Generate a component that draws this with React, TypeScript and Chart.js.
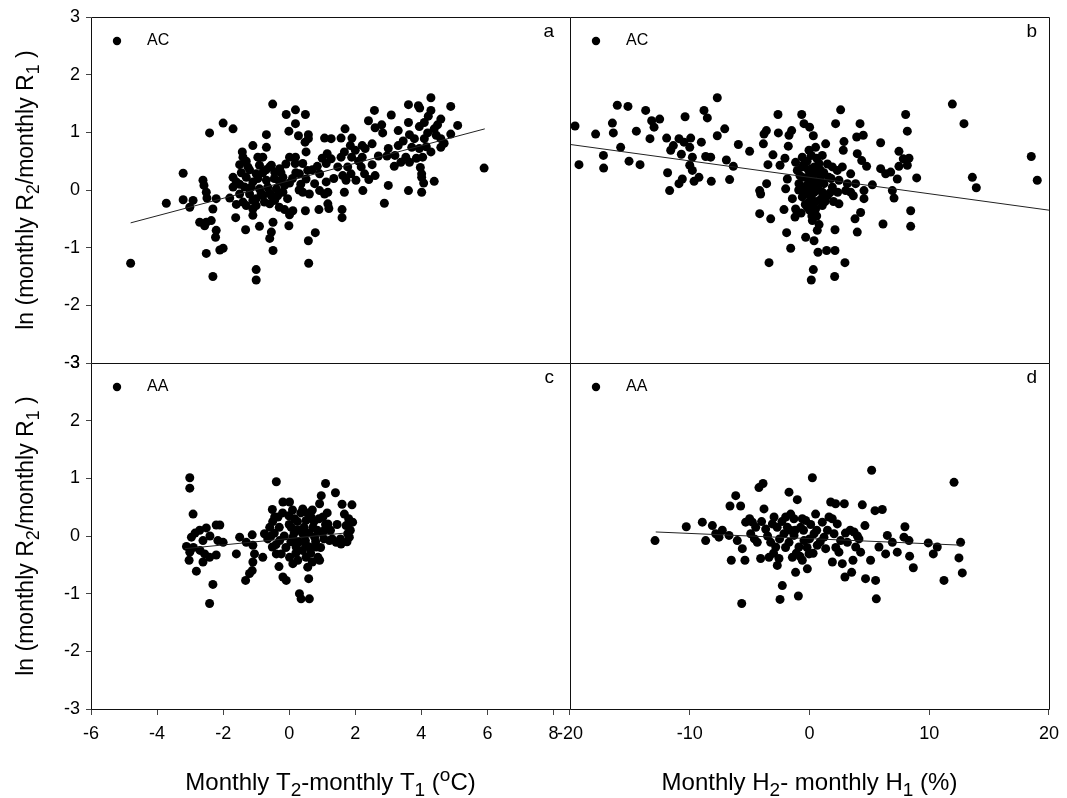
import React, { useEffect, useRef } from 'react';
import { Chart, registerables } from 'chart.js';

Chart.register(...registerables);

const FONT = "'Liberation Sans', Arial, Helvetica, sans-serif";

// Panel a: AC, ln(R2/R1) vs monthly temperature difference (°C)
const acTemp: [number, number][] = [
  [-0.5, 1.49], [0.19, 1.39], [-0.09, 1.31], [0.49, 1.31], [4.29, 1.6], [3.61, 1.48], [3.91, 1.46], [3.95, 1.42],
  [4.89, 1.45], [2.58, 1.38], [4.29, 1.38], [3.09, 1.3], [2.4, 1.2], [4.21, 1.28], [4.59, 1.23], [5.1, 1.12],
  [-2.0, 1.16], [-1.7, 1.06], [-2.41, 0.99], [0.19, 1.15], [-0.01, 1.02], [-0.69, 0.96], [0.28, 0.94], [0.58, 0.96],
  [1.69, 1.06], [2.6, 1.08], [2.8, 1.13], [3.3, 1.03], [3.61, 1.17], [4.09, 1.17], [3.94, 1.1], [4.49, 1.13],
  [1.07, 0.9], [1.27, 0.89], [1.57, 0.9], [1.9, 0.9], [2.83, 0.99], [3.64, 0.96], [4.19, 0.99], [4.39, 1.06],
  [4.89, 0.97], [0.48, 0.83], [0.58, 0.89], [-1.1, 0.77], [-0.69, 0.74], [1.85, 0.77], [2.21, 0.77], [2.51, 0.8],
  [4.59, 0.89], [4.69, 0.81], [3.79, 0.89], [4.09, 0.89], [-1.42, 0.66], [0.51, 0.66], [1.15, 0.63], [1.67, 0.66],
  [2.0, 0.69], [2.3, 0.72], [3.0, 0.72], [3.3, 0.77], [3.71, 0.74], [3.94, 0.72], [4.29, 0.66], [4.59, 0.74],
  [-1.4, 0.57], [-0.95, 0.57], [0.01, 0.57], [0.19, 0.57], [-0.54, 0.43], [-0.8, 0.57], [1.27, 0.54], [1.57, 0.57],
  [1.89, 0.57], [2.21, 0.57], [2.7, 0.59], [2.96, 0.59], [3.53, 0.57], [4.04, 0.57], [3.38, 0.48], [0.18, 0.46],
  [0.41, 0.46], [0.85, 0.41], [1.12, 0.46], [1.47, 0.4], [1.77, 0.4], [2.18, 0.4], [2.51, 0.44], [3.18, 0.41],
  [3.64, 0.48], [3.97, 0.39], [-1.5, 0.44], [-1.25, 0.4], [-0.9, 0.43], [-0.59, 0.4], [-0.29, 0.37], [-3.21, 0.29],
  [0.56, 0.34], [0.92, 0.28], [0.31, 0.28], [1.62, 0.25], [1.87, 0.28], [2.28, 0.28], [4.01, 0.28], [-1.7, 0.22],
  [-1.3, 0.22], [-1.0, 0.28], [-0.44, 0.31], [-0.19, 0.22], [-2.61, 0.17], [-1.6, 0.14], [-1.1, 0.14], [-0.69, 0.17],
  [0.01, 0.12], [0.51, 0.19], [0.77, 0.11], [1.12, 0.14], [1.72, 0.17], [2.02, 0.17], [2.41, 0.18], [3.0, 0.08],
  [4.07, 0.12], [4.39, 0.15], [4.01, 0.22], [-2.58, 0.08], [-1.7, 0.05], [-1.35, 0.05], [-0.9, 0.02], [-0.39, 0.02],
  [-0.14, 0.08], [0.41, -0.04], [0.92, -0.01], [1.17, -0.04], [1.67, -0.04], [2.23, -0.01], [3.61, -0.01], [4.01, -0.04],
  [-2.51, -0.04], [-1.5, -0.07], [-1.2, -0.07], [-0.8, -0.1], [-0.54, -0.1], [-0.19, -0.04], [0.61, -0.07], [1.07, -0.07],
  [-2.49, -0.14], [-2.21, -0.15], [-1.8, -0.14], [-1.4, -0.21], [-1.1, -0.18], [-0.75, -0.21], [-0.44, -0.18], [-3.72, -0.23],
  [-3.21, -0.17], [-2.91, -0.18], [-3.01, -0.3], [-1.3, -0.27], [-1.0, -0.27], [-0.59, -0.24], [1.17, -0.24], [2.88, -0.23],
  [-2.31, -0.33], [-1.1, -0.33], [-0.14, -0.34], [0.11, -0.36], [0.49, -0.36], [0.9, -0.34], [1.2, -0.32], [1.6, -0.34],
  [-1.62, -0.48], [-1.1, -0.44], [0.01, -0.43], [1.6, -0.48], [-2.71, -0.56], [-2.51, -0.56], [-2.56, -0.62], [-2.36, -0.53],
  [-0.49, -0.56], [-0.9, -0.63], [-0.01, -0.62], [-1.32, -0.69], [-2.21, -0.7], [-2.23, -0.82], [-0.54, -0.73], [-0.59, -0.84],
  [0.79, -0.74], [0.58, -0.88], [-2.1, -1.04], [-2.0, -1.01], [-2.51, -1.1], [-0.49, -1.05], [0.59, -1.27], [-4.8, -1.27],
  [-2.31, -1.5], [-1.0, -1.38], [-1.0, -1.56], [5.9, 0.38], [-1.2, 0.35], [-0.8, 0.3], [-0.3, 0.15], [-1.5, 0.1],
  [-0.6, -0.05], [0.3, 0.0], [-0.1, 0.45], [-1.0, -0.15], [0.2, 0.3], [-1.45, 0.3], [-1.3, 0.5], [-1.15, 0.05],
  [-0.95, 0.2], [-0.85, -0.05], [-0.7, 0.35], [-0.65, 0.05], [-0.45, 0.2], [-0.35, -0.1], [-0.25, 0.3], [-0.05, -0.15],
  [0.1, 0.2], [0.35, 0.1], [0.7, 0.35], [1.0, 0.55], [1.35, 0.2], [2.1, 0.5], [2.6, 0.25], [3.2, 0.6],
  [3.45, 0.85], [3.85, 0.55], [4.15, 0.75], [4.45, 0.95], [-1.6, -0.25], [-0.3, -0.3],
];

// Panel b: AC, ln(R2/R1) vs monthly humidity difference (%)
const acHum: [number, number][] = [
  [-19.58, 1.11], [-19.25, 0.44], [-17.86, 0.97], [-17.21, 0.6], [-17.19, 0.38], [-16.46, 1.16], [-16.38, 0.99], [-16.05, 1.47],
  [-15.77, 0.74], [-15.16, 1.45], [-15.07, 0.5], [-14.46, 1.02], [-14.15, 0.44], [-13.68, 1.38], [-13.32, 0.89], [-13.18, 1.2],
  [-12.98, 1.09], [-12.51, 1.23], [-11.93, 0.9], [-11.85, 0.3], [-11.68, -0.01], [-11.59, 0.69], [-11.37, 0.77], [-10.9, 0.89],
  [-10.9, 0.11], [-10.7, 0.62], [-10.62, 0.19], [-10.39, 1.27], [-10.48, 0.83], [-10.0, 0.74], [-9.92, 0.9], [-9.78, 0.57],
  [-10.0, 0.43], [-9.78, 0.34], [-9.64, 0.15], [-9.23, 0.22], [-9.03, 0.83], [-8.81, 1.38], [-8.53, 1.25], [-8.67, 0.58],
  [-8.25, 0.57], [-8.2, 0.15], [-7.7, 0.94], [-7.08, 1.06], [-6.94, 0.52], [-6.67, 0.18], [-6.36, 0.41], [-7.7, 1.6],
  [-5.94, 0.79], [-5.0, 0.67], [-4.16, -0.01], [-4.08, -0.07], [-4.16, -0.41], [-3.85, 0.8], [-3.8, 0.97], [-3.6, 1.03],
  [-3.58, 0.11], [-3.47, 0.44], [-3.38, -1.26], [-3.24, -0.5], [-3.05, 0.61], [-2.63, 1.31], [-2.6, 0.99], [-2.46, 0.43],
  [-2.13, -0.34], [-2.05, 0.55], [-1.91, -0.74], [-1.85, 0.19], [-1.99, 0.02], [-1.77, 0.76], [-1.71, 0.95], [-1.57, -1.01],
  [-1.49, 1.03], [-1.43, -0.15], [-1.16, -0.33], [-1.21, -0.47], [-1.02, 0.34], [-0.88, 0.11], [-0.65, 1.31], [-0.6, 0.57],
  [-0.46, 1.15], [-0.32, -0.82], [-0.26, -0.07], [-0.18, -0.3], [-0.04, 0.69], [0.01, 1.09], [0.18, 0.37], [0.1, 0.11],
  [0.24, -0.53], [0.32, 0.94], [0.38, -0.88], [0.51, 0.74], [0.57, -0.01], [0.65, -0.7], [0.71, -1.08], [0.79, 0.46],
  [0.85, -0.18], [0.93, 0.22], [1.07, 0.6], [1.21, 0.11], [1.35, 0.8], [1.43, -1.05], [0.32, -1.38], [0.15, -1.56],
  [2.13, -1.05], [2.13, -0.69], [2.1, -1.5], [2.18, 1.15], [2.32, 0.34], [2.35, -0.04], [2.46, -0.24], [2.6, 1.39],
  [2.74, 0.4], [2.82, 0.69], [2.88, 0.84], [2.96, -1.26], [3.16, 0.11], [3.44, 0.28], [3.66, -0.1], [3.8, -0.5],
  [3.99, 0.63], [3.99, -0.73], [3.94, 0.92], [4.22, 1.15], [4.27, -0.39], [4.36, 0.51], [4.49, 0.95], [4.55, -0.01],
  [4.55, -0.15], [4.77, 0.41], [5.25, 0.09], [5.94, 0.82], [5.94, 0.37], [6.14, -0.59], [6.36, 0.28], [6.78, 0.31],
  [6.92, -0.01], [7.06, -0.14], [7.33, 0.19], [7.47, 0.67], [7.47, 0.41], [8.03, 1.31], [8.17, 1.02], [7.83, 0.54],
  [8.17, 0.43], [8.31, 0.55], [8.45, -0.36], [8.45, -0.63], [8.95, 0.21], [11.93, 1.49], [12.9, 1.15], [13.6, 0.22],
  [13.93, 0.04], [18.52, 0.58], [19.02, 0.17], [-0.6, 0.22], [-0.18, 0.22], [0.24, 0.19], [0.65, 0.14], [1.07, -0.04],
  [1.49, -0.1], [1.91, 0.05], [-0.6, -0.12], [-0.04, -0.21], [0.51, -0.33], [1.07, -0.27], [1.63, 0.22], [1.91, 0.4],
  [2.46, 0.17], [3.02, -0.01], [-0.6, 0.4], [-1.16, 0.48], [3.85, 0.11], [3.44, -0.04], [0.0, 0.0], [0.3, 0.05],
  [-0.3, -0.05], [0.5, 0.3], [-0.2, 0.5], [1.0, -0.15], [0.2, -0.45], [0.8, -0.6], [-0.9, 0.0], [-0.5, 0.05],
  [-0.1, 0.35], [0.1, -0.1], [0.4, 0.4], [0.45, -0.2], [0.7, 0.05], [0.9, 0.35], [1.2, 0.3], [1.3, -0.2],
  [1.7, -0.05], [-0.8, 0.25], [-0.35, -0.25], [0.0, -0.35], [0.3, -0.25], [0.6, 0.55], [0.15, 0.6], [-0.45, 0.45],
  [1.5, 0.45], [2.0, -0.2], [0.05, 0.25], [0.35, -0.05], [-0.15, 0.1], [0.6, -0.45], [-0.7, -0.4], [1.8, 0.2],
];

// Panel c: AA, ln(R2/R1) vs monthly temperature difference (°C)
const aaTemp: [number, number][] = [
  [-3.01, 1.01], [-3.01, 0.83], [-2.91, 0.38], [-3.11, -0.18], [-3.01, -0.28], [-3.03, -0.42], [-2.81, -0.61], [-2.96, -0.02],
  [-2.71, 0.1], [-2.51, 0.14], [-2.61, -0.08], [-2.56, -0.31], [-2.61, -0.45], [-2.41, -0.37], [-2.21, -0.33], [-2.31, -0.84],
  [-2.41, -1.17], [-2.21, 0.19], [-2.1, 0.19], [-2.16, -0.08], [-2.0, -0.11], [-1.6, -0.31], [-1.5, -0.02], [-1.3, -0.11],
  [-1.12, 0.02], [-1.1, -0.16], [-1.05, -0.31], [-1.1, -0.45], [-1.12, -0.6], [-1.2, -0.65], [-1.32, -0.77], [-0.8, -0.37],
  [-0.75, 0.04], [-0.59, 0.15], [-0.51, 0.46], [-0.44, 0.33], [-0.39, 0.94], [-0.34, 0.33], [-0.29, -0.08], [-0.24, -0.31],
  [-0.31, -0.53], [-0.19, -0.71], [-0.09, -0.77], [-0.19, 0.59], [0.01, 0.59], [-0.01, 0.35], [0.06, 0.15], [0.11, -0.02],
  [0.21, -0.19], [0.26, -0.42], [0.31, -1.0], [0.36, -1.09], [0.41, 0.47], [0.51, 0.27], [0.49, -0.08], [0.56, -0.54],
  [0.59, -0.74], [0.61, -1.09], [0.66, 0.33], [0.72, 0.15], [0.77, -0.02], [0.82, -0.19], [0.87, -0.37], [0.92, 0.56],
  [0.97, 0.7], [1.02, 0.33], [1.07, 0.1], [1.1, 0.91], [1.17, 0.21], [1.22, -0.08], [1.4, 0.75], [1.42, -0.11],
  [1.57, -0.14], [1.67, 0.38], [1.72, 0.18], [1.77, 0.04], [1.9, 0.54], [1.92, 0.24], [1.82, -0.02], [-0.51, -0.19],
  [-0.39, -0.31], [0.01, -0.37], [0.11, -0.48], [0.41, 0.04], [0.61, -0.19], [0.92, -0.42], [0.16, 0.3], [0.31, 0.1],
  [0.51, -0.37], [-0.5, 0.25], [-0.45, 0.05], [-0.4, -0.15], [-0.3, 0.15], [-0.2, 0.4], [-0.15, 0.0], [-0.1, -0.2],
  [0.0, 0.2], [0.05, -0.1], [0.1, 0.45], [0.15, 0.05], [0.2, -0.3], [0.25, 0.25], [0.3, -0.1], [0.35, 0.4],
  [0.4, -0.25], [0.45, 0.15], [0.5, -0.15], [0.55, 0.4], [0.6, 0.05], [0.65, -0.3], [0.7, 0.45], [0.75, 0.25],
  [0.8, -0.1], [0.85, 0.1], [0.9, 0.3], [0.95, -0.2], [1.0, 0.05], [1.05, -0.05], [1.15, 0.4], [1.25, 0.1],
  [1.3, -0.05], [1.45, 0.2], [1.55, -0.05], [1.6, 0.55], [1.75, -0.1], [1.8, 0.3], [1.85, 0.1], [-2.85, 0.05],
  [-2.9, -0.2], [-2.7, -0.25], [-2.4, 0.0], [-0.65, -0.05], [-0.55, 0.0], [0.2, 0.1], [0.7, -0.45], [1.1, 0.2],
];

// Panel d: AA, ln(R2/R1) vs monthly humidity difference (%)
const aaHum: [number, number][] = [
  [-12.9, -0.08], [-10.29, 0.16], [-8.95, 0.24], [-8.67, -0.08], [-8.11, 0.18], [-7.83, 0.04], [-7.56, -0.02], [-7.28, 0.1],
  [-6.72, 0.01], [-6.64, 0.52], [-6.53, -0.42], [-6.16, 0.7], [-6.03, -0.08], [-5.75, 0.52], [-5.61, -0.22], [-5.66, -1.17],
  [-5.39, -0.42], [-5.33, 0.24], [-4.91, 0.04], [-4.77, 0.24], [-4.49, 0.15], [-4.36, -0.11], [-4.22, 0.84], [-3.88, 0.91],
  [-4.08, -0.39], [-3.8, 0.47], [-3.66, 0.12], [-3.38, -0.37], [-3.24, -0.11], [-3.1, 0.21], [-2.96, 0.33], [-2.82, -0.19],
  [-2.69, -0.51], [-2.55, -0.39], [-2.46, -1.1], [-2.27, -0.86], [-2.13, 0.04], [-1.99, 0.33], [-1.85, 0.15], [-1.71, 0.76],
  [-1.71, -0.11], [-1.57, 0.38], [-1.43, -0.37], [-1.29, 0.01], [-1.16, -0.63], [-1.02, 0.63], [-0.93, -1.04], [-0.88, -0.19],
  [-0.74, 0.15], [-0.6, -0.42], [-0.46, -0.08], [-0.32, 0.27], [-0.18, -0.57], [-0.04, -0.31], [0.24, 1.01], [0.38, 0.04],
  [0.51, 0.38], [0.65, -0.16], [1.07, 0.24], [1.21, -0.02], [1.35, -0.22], [1.63, 0.33], [1.77, 0.59], [1.91, -0.45],
  [2.05, 0.04], [2.18, 0.56], [2.32, 0.21], [2.46, -0.28], [2.6, -0.08], [2.74, -0.48], [2.91, 0.56], [2.96, -0.71],
  [3.16, -0.11], [3.52, -0.63], [3.63, -0.42], [3.72, 0.07], [3.86, -0.19], [4.13, -0.05], [4.27, -0.28], [4.41, 0.54],
  [4.63, 0.18], [4.68, -0.74], [5.1, -0.42], [5.19, 1.14], [5.47, 0.44], [5.52, -0.77], [5.58, -1.09], [5.8, -0.19],
  [6.08, 0.46], [6.36, -0.31], [6.5, 0.01], [6.92, -0.11], [7.33, -0.28], [7.97, 0.16], [7.89, -0.02], [8.31, -0.08],
  [8.36, -0.35], [8.67, -0.55], [9.92, -0.12], [10.34, -0.31], [10.67, -0.19], [11.23, -0.77], [12.07, 0.93], [12.48, -0.38],
  [12.62, -0.11], [12.76, -0.64], [-5.0, 0.3], [-4.6, -0.05], [-4.0, 0.25], [-3.5, 0.0], [-3.0, -0.3], [-2.7, 0.15],
  [-2.3, 0.25], [-2.0, -0.2], [-1.6, 0.1], [-1.3, 0.3], [-1.1, -0.3], [-0.8, -0.35], [-0.5, 0.1], [-0.2, -0.2],
  [0.1, 0.2], [0.3, -0.3], [0.6, 0.1], [0.9, -0.1], [1.5, 0.1], [1.9, 0.3], [2.2, -0.2], [3.0, 0.05],
  [3.4, 0.1], [4.0, 0.0], [-0.6, 0.3], [-2.5, -0.05], [-1.2, 0.1], [0.0, -0.05],
];

// Fitted regression lines (end points)
const acTempFit: [number, number][] = [[-4.8, -0.57], [5.92, 1.06]];
const acHumFit: [number, number][] = [[-20, 0.79], [20, -0.35]];
const aaTempFit: [number, number][] = [[-3.16, -0.22], [1.67, 0.05]];
const aaHumFit: [number, number][] = [[-12.84, 0.07], [12.76, -0.16]];

const tempTicks = [-6, -4, -2, 0, 2, 4, 6, 8];
const humTicks = [-20, -10, 0, 10, 20];
const lnTicks = [-3, -2, -1, 0, 1, 2, 3];

const panelLetters = ['a', 'b', 'c', 'd'];
const groupNames = ['AC', 'AC', 'AA', 'AA'];

type Seg = { t: string; v?: 'sub' | 'sup' };
const yTitle: Seg[] = [{ t: 'ln (monthly R' }, { t: '2', v: 'sub' }, { t: '/monthly R' }, { t: '1', v: 'sub' }, { t: ' )' }];
const xTitleTemp: Seg[] = [{ t: 'Monthly T' }, { t: '2', v: 'sub' }, { t: '-monthly T' }, { t: '1', v: 'sub' }, { t: ' (' }, { t: 'o', v: 'sup' }, { t: 'C)' }];
const xTitleHum: Seg[] = [{ t: 'Monthly H' }, { t: '2', v: 'sub' }, { t: '- monthly H' }, { t: '1', v: 'sub' }, { t: ' (%)' }];

const toPoints = (arr: [number, number][]) => arr.map(([x, y]) => ({ x, y }));

function drawRich(ctx: CanvasRenderingContext2D, segs: Seg[], size: number, cx: number, cy: number, angle: number) {
  ctx.save();
  ctx.translate(cx, cy);
  ctx.rotate(angle);
  const small = Math.round(size * 0.8);
  const widths = segs.map((s) => {
    ctx.font = `${s.v ? small : size}px ${FONT}`;
    return ctx.measureText(s.t).width;
  });
  const total = widths.reduce((a, b) => a + b, 0);
  let x = -total / 2;
  ctx.textAlign = 'left';
  ctx.textBaseline = 'alphabetic';
  ctx.fillStyle = '#000';
  segs.forEach((s, i) => {
    ctx.font = `${s.v ? small : size}px ${FONT}`;
    const dy = s.v === 'sub' ? size * 0.27 : s.v === 'sup' ? -size * 0.36 : 0;
    ctx.fillText(s.t, x, dy);
    x += widths[i];
  });
  ctx.restore();
}

const panelDecor = {
  id: 'panelDecor',
  afterDatasetsDraw(chart: any) {
    const { ctx } = chart;
    const xL = chart.scales.xL;
    const xR = chart.scales.xR;
    const yT = chart.scales.yT;
    const yB = chart.scales.yB;
    const left = Math.round(xL.left) + 0.5;
    const mid = Math.round(xR.left) + 0.5;
    const right = Math.round(xR.right) + 0.5;
    const top = Math.round(yT.top) + 0.5;
    const hmid = Math.round(yB.top) + 0.5;
    const bottom = Math.round(yB.bottom) + 0.5;

    ctx.save();
    ctx.strokeStyle = '#111';
    ctx.lineWidth = 1;
    ctx.beginPath();
    ctx.rect(left, top, right - left, bottom - top);
    ctx.moveTo(mid, top);
    ctx.lineTo(mid, bottom);
    ctx.moveTo(left, hmid);
    ctx.lineTo(right, hmid);
    ctx.stroke();

    const panels = [
      { l: xL.left, r: xL.right, t: yT.top },
      { l: xR.left, r: xR.right, t: yT.top },
      { l: xL.left, r: xL.right, t: yB.top },
      { l: xR.left, r: xR.right, t: yB.top },
    ];
    panels.forEach((p, i) => {
      // legend entry
      ctx.fillStyle = '#000';
      ctx.beginPath();
      ctx.arc(p.l + 26, p.t + 24, 4.2, 0, Math.PI * 2);
      ctx.fill();
      ctx.font = `16px ${FONT}`;
      ctx.textAlign = 'left';
      ctx.textBaseline = 'middle';
      ctx.fillText(groupNames[i], p.l + 56, p.t + 24);
      // panel letter
      ctx.font = `19px ${FONT}`;
      ctx.textAlign = 'right';
      ctx.textBaseline = 'middle';
      ctx.fillText(panelLetters[i], p.r - (i % 2 === 0 ? 16 : 12), p.t + 15);
    });

    // axis titles
    drawRich(ctx, yTitle, 23, 33, (yT.top + yT.bottom) / 2, -Math.PI / 2);
    drawRich(ctx, yTitle, 23, 33, (yB.top + yB.bottom) / 2, -Math.PI / 2);
    drawRich(ctx, xTitleTemp, 24, (xL.left + xL.right) / 2, 790, 0);
    drawRich(ctx, xTitleHum, 24, (xR.left + xR.right) / 2, 790, 0);
    ctx.restore();
  },
};

const tickFont = { family: FONT, size: 18 };

function xScale(min: number, max: number, ticks: number[], weight: number) {
  return {
    type: 'linear',
    position: 'bottom',
    stack: 'bottomStack',
    stackWeight: 1,
    weight,
    min,
    max,
    afterBuildTicks: (s: any) => {
      s.ticks = ticks.map((v) => ({ value: v }));
    },
    afterFit: (s: any) => {
      s.height = 89;
    },
    grid: { drawOnChartArea: false, drawTicks: true, tickLength: 6, color: '#444', lineWidth: 1 },
    border: { display: false },
    ticks: { font: tickFont, color: '#000', padding: 8, maxRotation: 0, autoSkip: false },
  };
}

function yScale(weight: number) {
  return {
    type: 'linear',
    position: 'left',
    stack: 'leftStack',
    stackWeight: 1,
    weight,
    min: -3,
    max: 3,
    afterBuildTicks: (s: any) => {
      s.ticks = lnTicks.map((v) => ({ value: v }));
    },
    afterFit: (s: any) => {
      s.width = 91;
    },
    grid: { drawOnChartArea: false, drawTicks: true, tickLength: 5, color: '#444', lineWidth: 1 },
    border: { display: false },
    ticks: { font: tickFont, color: '#000', padding: 6, autoSkip: false },
  };
}

function scatterSet(arr: [number, number][], xAxisID: string, yAxisID: string) {
  return {
    data: toPoints(arr),
    xAxisID,
    yAxisID,
    showLine: false,
    pointRadius: 4.5,
    pointHoverRadius: 4.5,
    pointBackgroundColor: '#000',
    pointBorderWidth: 0,
    borderColor: '#000',
    order: 1,
  };
}

function fitSet(arr: [number, number][], xAxisID: string, yAxisID: string) {
  return {
    data: toPoints(arr),
    xAxisID,
    yAxisID,
    showLine: true,
    pointRadius: 0,
    borderColor: '#222',
    borderWidth: 1,
    order: 0,
  };
}

export default function App() {
  const ref = useRef<HTMLCanvasElement | null>(null);

  useEffect(() => {
    if (!ref.current) return;
    const chart = new Chart(ref.current, {
      type: 'scatter',
      data: {
        datasets: [
          fitSet(acTempFit, 'xL', 'yT'),
          fitSet(acHumFit, 'xR', 'yT'),
          fitSet(aaTempFit, 'xL', 'yB'),
          fitSet(aaHumFit, 'xR', 'yB'),
          scatterSet(acTemp, 'xL', 'yT'),
          scatterSet(acHum, 'xR', 'yT'),
          scatterSet(aaTemp, 'xL', 'yB'),
          scatterSet(aaHum, 'xR', 'yB'),
        ] as any,
      },
      options: {
        responsive: false,
        animation: false,
        events: [],
        layout: { padding: { top: 17, right: 17, left: 0, bottom: 0 } },
        plugins: { legend: { display: false }, tooltip: { enabled: false } },
        scales: {
          xL: xScale(-6, 8.5, tempTicks, 1),
          xR: xScale(-20, 20, humTicks, 2),
          yT: yScale(2),
          yB: yScale(1),
        } as any,
      },
      plugins: [panelDecor],
    });
    return () => chart.destroy();
  }, []);

  return (
    <div style={{ position: 'absolute', left: 0, top: 0, width: 1067, height: 798, background: '#fff' }}>
      <canvas ref={ref} width={1067} height={798} style={{ display: 'block' }} />
    </div>
  );
}
